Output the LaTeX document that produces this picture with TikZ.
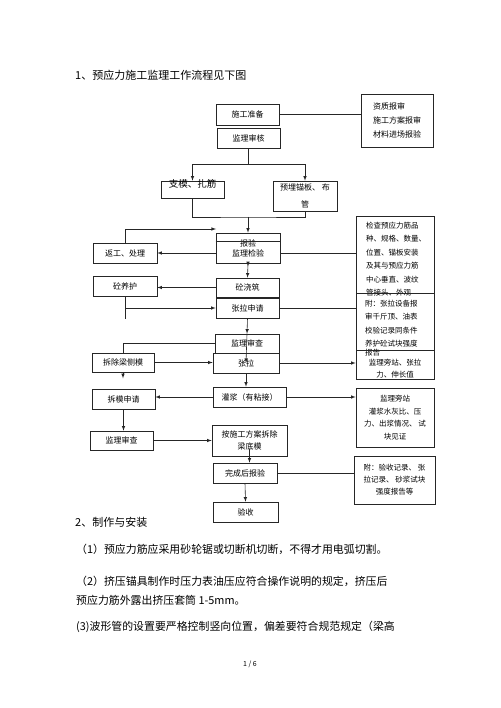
\documentclass[tikz,border=0pt]{standalone}
\usepackage{fontspec}
\setmainfont{Noto Sans CJK SC}
\usetikzlibrary{arrows, calc}

\begin{document}
\begin{tikzpicture}[x=1pt, y=-1pt,
    kuang/.style={draw=black!85, line width=0.6pt, inner sep=1pt,
      font=\fontsize{8}{10}\selectfont, align=center},
    wz/.style={inner sep=0pt, font=\fontsize{7.5}{13.4}\selectfont, align=left},
    zw/.style={inner sep=0pt, anchor=west, font=\fontsize{10.9}{12}\selectfont},
    arr/.style={-latex, line width=0.6pt, draw=black!85},
    xian/.style={line width=0.6pt, draw=black!85}]
      \useasboundingbox[fill=white] (0,0) rectangle (500,708);

      \node[zw, font=\fontsize{11}{13}\selectfont] (bt1) at (75,75) {1、预应力施工监理工作流程见下图};

      % main column
      \node[kuang, minimum width=63, minimum height=21] (sgzb) at (247.5,114.5) {施工准备};
      \node[kuang, minimum width=63, minimum height=20] (jlsh) at (248.5,138) {监理审核};
      \node[kuang, minimum width=72, minimum height=53, align=left,
        font=\fontsize{8}{14}\selectfont] (zzsc) at (397,120.5) {资质报审\\施工方案报审\\材料进场报验};

      \node[kuang, minimum width=63, minimum height=17, inner ysep=0pt,
        text height=7pt, text depth=10pt, font=\fontsize{9.5}{11}\selectfont] (zm) at (192.5,189.5) {支模、扎筋};
      \node[kuang, minimum width=64, minimum height=30,
        font=\fontsize{8}{17}\selectfont] (ymmb) at (305,196) {预埋锚板、 布\\管};

      \node[kuang, minimum width=64, minimum height=30] (bywj) at (248,248) {报验\\监理检验};
      \node[kuang, minimum width=64, minimum height=20] (fgcl) at (125,253) {返工、处理};
      \node[kuang, minimum width=78, minimum height=77] (jc) at (395,254.5) {};
      \node[wz, anchor=north west] (jc-wz) at (366,222)
        {检查预应力筋品\\种、规格、数量、\\位置、锚板安装\\及其与预应力筋\\中心垂直、波纹\\管接头、外观};

      \node[kuang, minimum width=63, minimum height=19] (hzjz) at (247.5,287.5) {砼浇筑};
      \node[kuang, minimum width=64, minimum height=20] (hyh) at (125,286) {砼养护};
      \node[kuang, minimum width=63, minimum height=20] (zlsq) at (247.5,308) {张拉申请};
      \node[kuang, minimum width=78, minimum height=57] (fj) at (395,321.5) {};
      \node[wz, anchor=north west] (fj-wz) at (365,300)
        {附：张拉设备报\\审千斤顶、油表\\校验记录同条件\\养护砼试块强度\\[-4.5pt]报告};

      \node[kuang, minimum width=64, minimum height=19] (jlsc) at (247,343.5) {监理审查};
      \node[kuang, minimum width=66, minimum height=20] (zl) at (246,363) {张拉};
      \node[kuang, minimum width=62, minimum height=19] (ccl) at (123,362.5) {拆除梁侧模};
      \node[kuang, minimum width=78, minimum height=29] (pz) at (395,364.5) {};
      \node[wz, align=center, font=\fontsize{7.5}{12}\selectfont] (pz-wz) at (395,368.5) {监理旁站、张拉\\力、伸长值};

      \node[kuang, minimum width=73, minimum height=20] (gj) at (249.5,397) {灌浆（有粘接）};
      \node[kuang, minimum width=63, minimum height=20] (cmsq) at (123.5,399) {拆模申请};
      \node[kuang, minimum width=78, minimum height=59,
        font=\fontsize{7.5}{12.7}\selectfont] (pz2) at (395,417.5) {监理旁站\\灌浆水灰比、压\\力、出浆情况、 试\\块见证};

      \node[kuang, minimum width=63, minimum height=19] (jlsc2) at (121.5,440.5) {监理审查};
      \node[kuang, minimum width=75, minimum height=31,
        font=\fontsize{8}{12}\selectfont] (acdm) at (249.5,440.5) {按施工方案拆除\\梁底模};
      \node[kuang, minimum width=64, minimum height=20] (wcbj) at (245,473) {完成后报验};
      \node[kuang, minimum width=81, minimum height=48,
        font=\fontsize{7.5}{12}\selectfont] (fjys) at (394.5,480) {附：验收记录、 张\\拉记录、 砂浆试块\\强度报告等};
      \node[kuang, minimum width=65, minimum height=20] (ys) at (245.5,512) {验收};

      % connectors
      \draw[xian] (sgzb.east) -- (sgzb.east -| zzsc.west);
      \coordinate (fen) at (248.5,164);
      \draw[xian] (jlsh.south) -- (fen);
      \draw[arr] (fen) -| (zm.north);
      \draw[arr] (fen) -| (ymmb.north);
      \coordinate (he) at (248,217);
      \draw[xian] (zm.south) |- (he) -| (ymmb.south);
      \draw[arr] (he) -- (bywj.north);
      \draw[xian] ([yshift=-9pt]bywj.north west) -- ([yshift=-9pt]bywj.north east);

      \coordinate (fh) at (216,229);
      \draw[arr] (fgcl.north) |- (fh);
      \draw[arr] (fgcl.east -| bywj.west) -- (fgcl.east);
      \draw[xian] (fgcl.east -| bywj.east) -- (fgcl.east -| jc.west);
      \draw[arr] (bywj.south) -- ++(0,3);
      \draw[arr] (bywj.south) -- (hzjz.north);
      \draw[arr] (hzjz.west) -- (hzjz.west -| hyh.east);
      \draw[xian] (hyh.south) -- ++(0,23);
      \draw[arr] (hyh.south |- zlsq.west) -- (zlsq.west);
      \draw[xian] (zlsq.east) -- (zlsq.east -| fj.west);

      \draw[arr] (zlsq.south) -- (jlsc.north);
      \draw[arr] (jlsc.north) -- (zl.center);
      \draw[xian] (jlsc.west) -| (ccl.north);
      \draw[arr] (ccl.east) -- (ccl.east -| zl.west);
      \draw[arr] (ccl.south) -- ++(0,6);
      \draw[arr] (zl.east) -- (zl.east -| pz.west);

      \draw[arr] (zl.south) -- (zl.south |- gj.north);
      \draw[arr] (gj.west) -- (gj.west -| cmsq.east);
      \draw[arr] (gj.east) -- (gj.east -| pz2.west);
      \draw[arr] (cmsq.south) -- (cmsq.south |- jlsc2.north);
      \draw[arr] (jlsc2.east) -- (acdm.west);
      \draw[arr] ([yshift=-8pt]acdm.center) -- (acdm.center |- wcbj.north);
      \draw[xian] (wcbj.east) -- (wcbj.east -| fjys.west);
      \draw[arr] (wcbj.south) -- (ys.north);

      % text below
      \node[zw, font=\fontsize{11}{13}\selectfont] (bt2) at (75,522) {2、制作与安装};
      \node[zw] (h1) at (76,549) {（1）预应力筋应采用砂轮锯或切断机切断，不得才用电弧切割。};
      \node[zw] (h2) at (76,581) {（2）挤压锚具制作时压力表油压应符合操作说明的规定，挤压后};
      \node[zw] (h3) at (76,600) {预应力筋外露出挤压套筒 1-5mm。};
      \node[zw] (h4) at (76,627) {(3)波形管的设置要严格控制竖向位置，偏差要符合规范规定（梁高};
      \node[inner sep=0pt, font=\fontsize{7}{8}\selectfont] (ym) at (250,664) {1 / 6};
    \end{tikzpicture}
\end{document}
